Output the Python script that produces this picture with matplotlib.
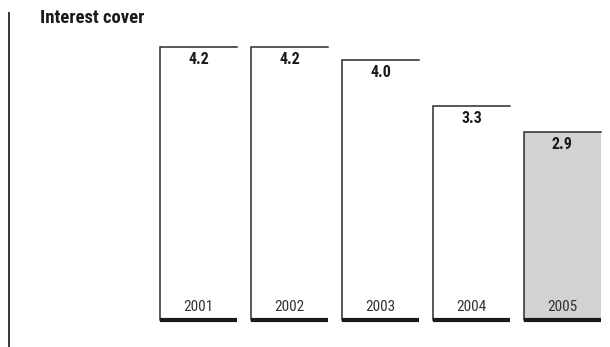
import matplotlib
matplotlib.use("Agg")
import matplotlib.pyplot as plt
from matplotlib.lines import Line2D
from matplotlib import font_manager

years = ["2001", "2002", "2003", "2004", "2005"]
values = [4.2, 4.2, 4.0, 3.3, 2.9]
value_labels = ["4.2", "4.2", "4.0", "3.3", "2.9"]
title = "Interest cover"

W, H, DPI = 610, 347, 100
fig = plt.figure(figsize=(W / DPI, H / DPI), dpi=DPI)
fig.patch.set_facecolor("white")

installed = {f.name for f in font_manager.fontManager.ttflist}
FONT = [f for f in ["Liberation Sans Narrow", "Roboto Condensed",
                    "DejaVu Sans Condensed", "Open Sans Condensed"]
        if f in installed] + ["DejaVu Sans"]

# Axes across the whole figure; scales chosen so each category step is 91 px
# and each unit of cover is 65 px, with the baseline 27 px above the bottom.
step_px, unit_px, base_px, first_px = 91.0, 65.0, 27.0, 198.5
ax = fig.add_axes([0, 0, 1, 1])
ax.set_xlim(-first_px / step_px, (W - first_px) / step_px)
ax.set_ylim(-base_px / unit_px, (H - base_px) / unit_px)
ax.axis("off")

width = 77.0 / step_px
xs = list(range(len(years)))
fills = ["white"] * (len(years) - 1) + ["#d1d2d4"]
edge = "#2b2b2b"

ax.bar(xs, values, width=width, color=fills, edgecolor="none", zorder=1)

label_off = 12.5 / unit_px
year_off = 13.0 / unit_px
for x, v, lab, yr in zip(xs, values, value_labels, years):
    left, right = x - width / 2, x + width / 2
    # left side and top edge of each bar
    ax.plot([left, left, right], [0, v, v], color=edge, lw=1.1,
            solid_joinstyle="miter", zorder=3)
    # heavy base rule under each bar
    ax.plot([left, right], [0, 0], color="#1a1a1a", lw=3.0,
            solid_capstyle="butt", zorder=4)
    ax.text(x, v - label_off, lab, ha="center", va="center",
            fontsize=11.5, fontweight="bold", color="#1a1a1a", family=FONT)
    ax.text(x, year_off, yr, ha="center", va="center",
            fontsize=11, color="#333333", family=FONT)

# vertical rule at the left margin
fig.add_artist(Line2D([8.5 / W, 8.5 / W], [1 - 13 / H, 1 - 346 / H],
                      transform=fig.transFigure, color="#333333", lw=1.4))
fig.text(40 / W, 1 - 18 / H, title, ha="left", va="center",
         fontsize=13.5, fontweight="bold", color="#1a1a1a", family=FONT)

fig.savefig("out.png", dpi=DPI, facecolor="white")
